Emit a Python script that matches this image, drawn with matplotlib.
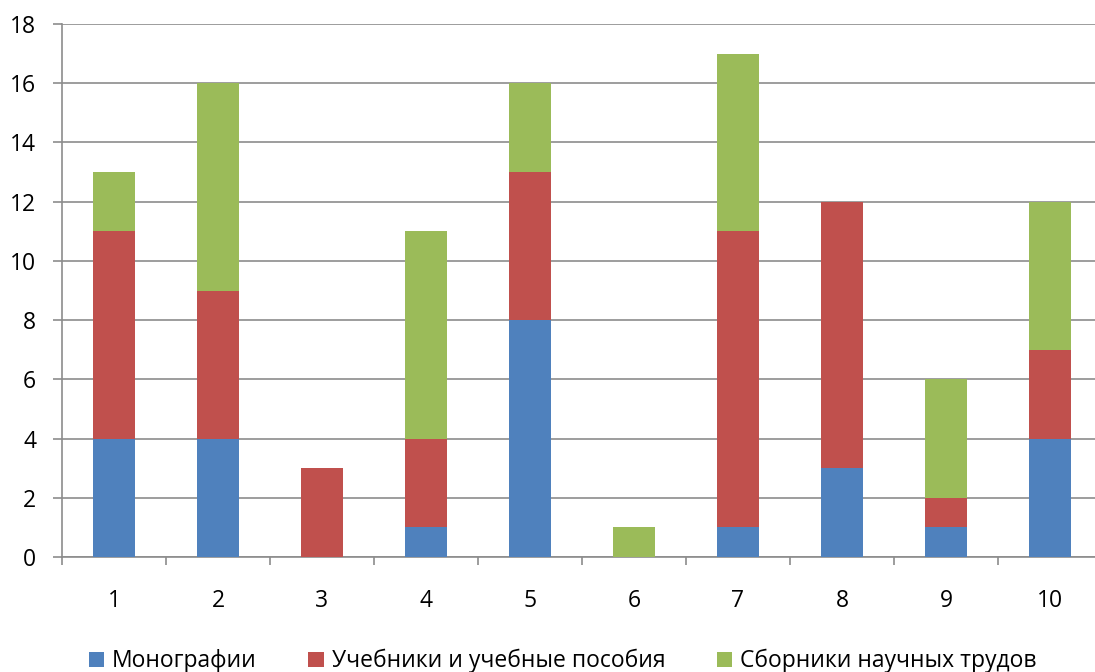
import matplotlib
matplotlib.use("Agg")
import matplotlib.pyplot as plt
import numpy as np

categories = ["1", "2", "3", "4", "5", "6", "7", "8", "9", "10"]
monographs = [4, 4, 0, 1, 8, 0, 1, 3, 1, 4]
textbooks = [7, 5, 3, 3, 5, 0, 10, 9, 1, 3]
collections = [2, 7, 0, 7, 3, 1, 6, 0, 4, 5]
series_names = ["Монографии", "Учебники и учебные пособия", "Сборники научных трудов"]
colors = ["#4F81BD", "#C0504D", "#9BBB59"]

plt.rcParams['font.family'] = ['Open Sans', 'DejaVu Sans']

W, H = 1095, 672
fig = plt.figure(figsize=(W / 100, H / 100), dpi=100)
# axes spans from x=62px to 1102px (cropped at right edge), y from 24px to 557px
ax = fig.add_axes([62 / W, 1 - 557 / H, (1102 - 62) / W, (557 - 24) / H])

x = np.arange(len(categories))
w = 0.40
m = np.array(monographs)
t = np.array(textbooks)
c = np.array(collections)
ax.bar(x, m, w, color=colors[0], label=series_names[0], zorder=3)
ax.bar(x, t, w, bottom=m, color=colors[1], label=series_names[1], zorder=3)
ax.bar(x, c, w, bottom=m + t, color=colors[2], label=series_names[2], zorder=3)

ax.set_xlim(-0.5, len(categories) - 0.5)
ax.set_ylim(0, 18)
ax.set_yticks(np.arange(0, 19, 2))
ax.yaxis.grid(True, color="#8C8C8C", linewidth=1.2, zorder=0)
ax.set_axisbelow(True)

ax.set_xticks(x)
ax.set_xticklabels(categories)
ax.set_xticks(np.arange(-0.5, len(categories), 1), minor=True)
ax.tick_params(axis='x', which='major', length=0, pad=23, labelsize=16.5)
ax.tick_params(axis='x', which='minor', length=6, color="#8C8C8C", width=1.2)
ax.tick_params(axis='y', length=6.5, color="#8C8C8C", width=1.2, labelsize=16.5, pad=12)

for s in ["top", "right"]:
    ax.spines[s].set_visible(False)
for s in ["left", "bottom"]:
    ax.spines[s].set_color("#8C8C8C")
    ax.spines[s].set_linewidth(1.2)

fig.legend(loc="center", bbox_to_anchor=(0.514, 0.016), ncol=3, frameon=False,
           fontsize=16.5, handlelength=0.66, handleheight=0.66, handletextpad=0.36,
           columnspacing=2.25, borderpad=0.2)

fig.savefig("out.png", dpi=100)
